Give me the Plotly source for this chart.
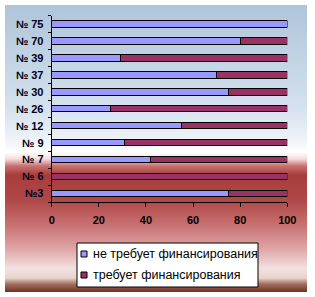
import plotly.graph_objects as go

categories = ["№ 75", "№ 70", "№ 39", "№ 37", "№ 30", "№ 26", "№ 12", "№ 9", "№ 7", "№ 6", "№3"]
no_funding = [100, 80, 29, 70, 75, 25, 55, 31, 42, 0, 75]
needs_funding = [0, 20, 71, 30, 25, 75, 45, 69, 58, 100, 25]
x_ticks = [0, 20, 40, 60, 80, 100]
series_names = ["не требует финансирования", "требует финансирования"]
series_colors = ["#9999FF", "#993366"]

W, H = 315, 297

fig = go.Figure()
for name, vals, color in zip(series_names, [no_funding, needs_funding], series_colors):
    fig.add_trace(go.Bar(
        y=categories, x=vals, orientation="h", name=name,
        marker=dict(color=color, line=dict(color="#000000", width=1)),
        showlegend=False))

# background gradient (style only)
stops = [(5, (176, 196, 218)), (60, (194, 212, 228)), (110, (214, 226, 238)),
         (140, (238, 243, 248)), (152, (255, 255, 255)), (159, (244, 220, 220)),
         (166, (200, 112, 112)), (175, (168, 60, 60)), (200, (176, 72, 72)),
         (225, (200, 112, 112)), (250, (224, 168, 168)), (268, (244, 224, 224)),
         (278, (232, 212, 204)), (284, (160, 112, 96)), (292, (112, 48, 32))]

def col_at(y):
    for (y0, c0), (y1, c1) in zip(stops[:-1], stops[1:]):
        if y0 <= y <= y1:
            t = (y - y0) / (y1 - y0)
            return "rgb(%d,%d,%d)" % tuple(round(a + (b - a) * t) for a, b in zip(c0, c1))
    return "rgb(%d,%d,%d)" % stops[-1][1]

def px(x0, y0, x1, y1):
    return dict(xref="paper", yref="paper", x0=x0 / W, x1=x1 / W,
                y0=1 - y1 / H, y1=1 - y0 / H)

shapes = []
for yp in range(5, 292):
    shapes.append(dict(type="rect", layer="below", line=dict(width=0),
                       fillcolor=col_at(yp + 0.5), **px(5, yp, 307, yp + 1)))

# legend box (drawn)
shapes.append(dict(type="rect", layer="above", fillcolor="white",
                   line=dict(color="#000000", width=1), **px(77, 243, 258, 287)))
annotations = []
for i, (name, color) in enumerate(zip(series_names, series_colors)):
    yc = 254 + 21 * i
    shapes.append(dict(type="rect", layer="above", fillcolor=color,
                       line=dict(color="#000000", width=1), **px(81, yc - 3, 87, yc + 3)))
    annotations.append(dict(text=name, xref="paper", yref="paper", x=91 / W,
                            y=1 - yc / H, xanchor="left", yanchor="middle",
                            showarrow=False,
                            font=dict(size=12.5, family="Liberation Sans, Arial",
                                      color="#000000")))

fig.update_layout(
    width=W, height=H, margin=dict(l=0, r=0, t=0, b=0),
    paper_bgcolor="white", plot_bgcolor="rgba(0,0,0,0)",
    barmode="stack", bargap=0.62, showlegend=False, shapes=shapes,
    annotations=annotations,
    font=dict(family="Liberation Sans, Arial", color="#000000"),
    xaxis=dict(domain=[51.7 / W, 287.3 / W], range=[0, 100], tickvals=x_ticks,
               showgrid=False, zeroline=False, showline=True, linecolor="#000000",
               linewidth=1, ticks="outside", ticklen=4, tickcolor="#000000",
               ticklabelstandoff=4,
               tickfont=dict(size=11, family="Liberation Sans, Arial", weight="bold",
                             color="#000000"), automargin=False, fixedrange=True),
    yaxis=dict(domain=[1 - 202 / H, 1 - 15.5 / H], categoryorder="array",
               categoryarray=categories[::-1], showgrid=False, zeroline=False,
               showline=True, linecolor="#000000", linewidth=1, ticks="outside",
               tickson="boundaries", ticklen=3, tickcolor="#000000",
               ticklabelstandoff=5,
               tickfont=dict(size=11, family="Liberation Sans, Arial", weight="bold",
                             color="#000022"), automargin=False, fixedrange=True),
)

fig.write_html("out.html")
